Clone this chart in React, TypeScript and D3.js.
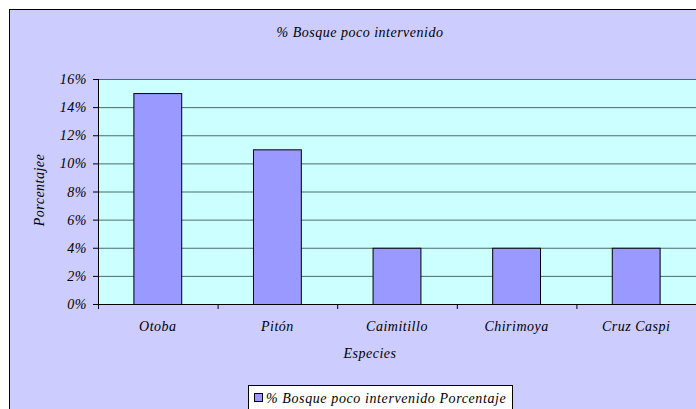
import React from "react";
import * as d3 from "d3";

const categories = ["Otoba", "Pitón", "Caimitillo", "Chirimoya", "Cruz Caspi"];
const values = [15, 11, 4, 4, 4];
const yTicks = [0, 2, 4, 6, 8, 10, 12, 14, 16];
const title = "% Bosque poco intervenido";
const yTitle = "Porcentajee";
const xTitle = "Especies";
const legendLabel = "% Bosque poco intervenido Porcentaje";

export default function App() {
  const W = 696, H = 409;
  const left = 98, right = 696, top = 79, bottom = 304;
  const x = d3.scaleBand<string>().domain(categories).range([left, left + 5 * 119.6]).paddingInner(0.6).paddingOuter(0.3);
  const xb = d3.scaleBand<string>().domain(categories).range([left, left + 5 * 119.6]);
  const y = d3.scaleLinear().domain([0, 16]).range([bottom, top]);
  const txt = { fontFamily: "'Times New Roman', 'Liberation Serif', Times, serif", fontStyle: "italic", fontSize: "14px", letterSpacing: "0.5px" } as React.CSSProperties;
  return (
    <svg width={W} height={H} style={{ position: "absolute", left: 0, top: 0 }}>
      <rect x={9.5} y={9.5} width={720} height={420} fill="#CCCCFF" stroke="#000" strokeWidth={1} />
      <text x={360} y={37} textAnchor="middle" style={txt}>{title}</text>
      <rect x={left} y={top} width={right - left + 10} height={bottom - top} fill="#CCFFFF" />
      {yTicks.map((t) => (
        <g key={t}>
          {t > 0 && <line x1={left} x2={right + 10} y1={y(t) + 0.5} y2={y(t) + 0.5} stroke="#4d6b6b" strokeWidth={1} />}
          <line x1={left - 5} x2={left} y1={y(t) + 0.5} y2={y(t) + 0.5} stroke="#000" />
          <text x={87} y={y(t) + 5} textAnchor="end" style={txt}>{t}%</text>
        </g>
      ))}
      {categories.map((c, i) => (
        <rect key={c} x={x(c)!} y={y(values[i]) + 0.5} width={x.bandwidth()} height={bottom - y(values[i])} fill="#9999FF" stroke="#000" strokeWidth={1} />
      ))}
      <line x1={left + 0.5} x2={left + 0.5} y1={top} y2={bottom + 5} stroke="#000" />
      <line x1={left - 5} x2={right + 10} y1={bottom + 0.5} y2={bottom + 0.5} stroke="#000" />
      {categories.map((c, i) => (
        <g key={c}>
          {i > 0 && <line x1={xb(c)! + 0.5} x2={xb(c)! + 0.5} y1={bottom} y2={bottom + 5} stroke="#000" />}
          <text x={xb(c)! + xb.bandwidth() / 2} y={331} textAnchor="middle" style={txt}>{c}</text>
        </g>
      ))}
      <text x={370} y={358} textAnchor="middle" style={txt}>{xTitle}</text>
      <text transform={`translate(44,190) rotate(-90)`} textAnchor="middle" style={txt}>{yTitle}</text>
      <rect x={248.5} y={385.5} width={264} height={30} fill="#fff" stroke="#000" />
      <rect x={254.5} y={393.5} width={8} height={8} fill="#9999FF" stroke="#000" />
      <text x={266} y={403} style={{ ...txt, letterSpacing: "0.6px" }}>{legendLabel}</text>
    </svg>
  );
}
